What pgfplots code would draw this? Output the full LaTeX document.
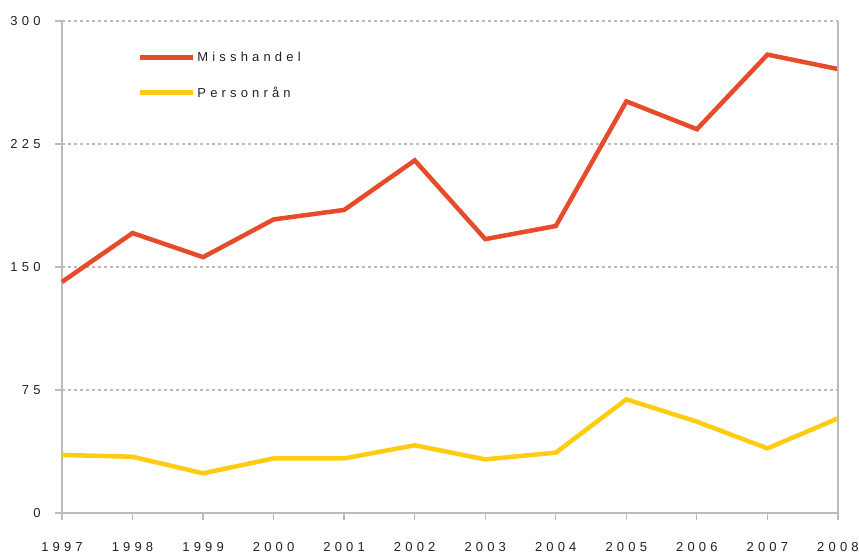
\documentclass[border=0pt]{standalone}
\usepackage{fontspec}
\setmainfont{Liberation Sans}[LetterSpace=32]
\usepackage{pgfplots}
\pgfplotsset{compat=1.18}
\definecolor{misscol}{HTML}{E64B2B}
\definecolor{perscol}{HTML}{FFCC11}
\definecolor{axcol}{HTML}{BBBBBB}
\definecolor{txtcol}{HTML}{222222}
\begin{document}
\begin{tikzpicture}
\begin{axis}[
  scale only axis,
  width=776bp, height=492bp,
  xmin=1997, xmax=2008,
  ymin=0, ymax=300,
  axis x line=bottom, axis y line=left,
  axis line style={-, axcol, line width=1.3bp},
  xtick={1997,...,2008},
  ytick={0,75,150,225,300},
  xticklabel style={/pgf/number format/1000 sep={}, yshift=-19bp},
  yticklabel style={xshift=-11bp},
  /pgf/number format/assume math mode=true,
  tick label style={font=\fontsize{13bp}{15bp}\selectfont, text=txtcol},
  tick align=outside,
  major tick length=7bp,
  tick style={axcol, line width=1.3bp},
  ymajorgrids,
  grid style={axcol, dashed, line width=1.1bp, dash pattern=on 3bp off 3bp},
  clip=false,
  legend style={at={(0.097,0.942)}, anchor=north west, draw=none, fill=none,
    inner sep=0pt, row sep=20bp,
    font=\fontsize{13bp}{15bp}\selectfont, text=txtcol,
    cells={anchor=west}},
  legend image code/.code={\draw[#1, line width=5bp] (0bp,0bp) -- (53bp,0bp);},
]
\addplot[misscol, line width=4.5bp] coordinates {
 (1997,140.9) (1998,170.7) (1999,156) (2000,179) (2001,184.8) (2002,215)
 (2003,167) (2004,175) (2005,251) (2006,234) (2007,279.5) (2008,270.7)};
\addlegendentry{Misshandel}
\addplot[perscol, line width=4.5bp] coordinates {
 (1997,35.4) (1998,34.3) (1999,24.2) (2000,33.3) (2001,33.3) (2002,41.3)
 (2003,32.7) (2004,36.8) (2005,69.3) (2006,55.7) (2007,39.4) (2008,57.7)};
\addlegendentry{Personrån}
\draw[axcol, line width=1.3bp] (rel axis cs:1,0) -- (rel axis cs:1,1);
\coordinate (bl) at (rel axis cs:0,0);
\coordinate (tr) at (rel axis cs:1,1);
\end{axis}
\pgfresetboundingbox
\path[use as bounding box] ([shift={(-62bp,-40bp)}]bl) rectangle ([shift={(21bp,21bp)}]tr);
\end{tikzpicture}
\end{document}
